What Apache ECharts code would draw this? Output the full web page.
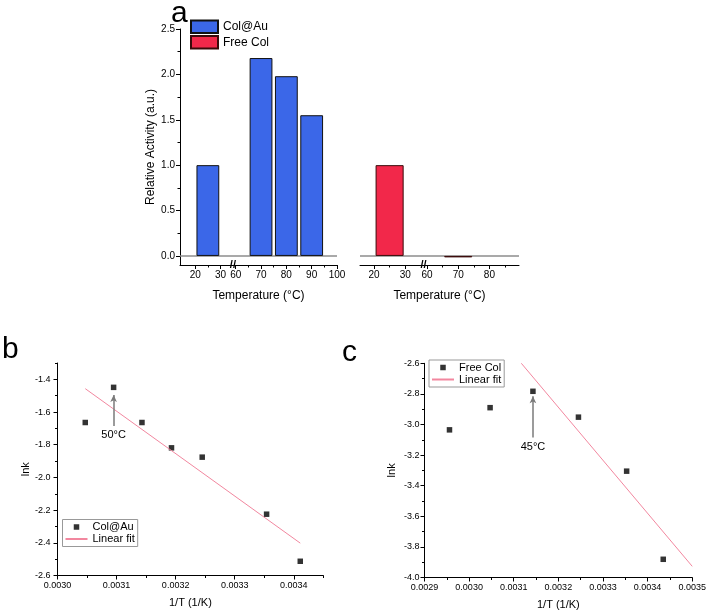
<!DOCTYPE html>
<html><head><meta charset="utf-8">
<script src="https://cdn.jsdelivr.net/npm/echarts@6/dist/echarts.min.js"></script>
<style>html,body{margin:0;padding:0;background:#fff}#c{width:709px;height:615px}</style>
</head><body><div id="c"></div>
<script>
// ---------------- data ----------------
// panel a : relative activity vs temperature (bar centres in °C)
const barTempsColAu = [25, 70, 80, 90];
const barActivityColAu = [1.00, 2.18, 1.98, 1.55];
const barTempsFreeCol = [25, 70];
const barActivityFreeCol = [1.00, -0.016];
const aYTickLabels = [0, 0.5, 1.0, 1.5, 2.0, 2.5];
const aYMinorTicks = [0.25, 0.75, 1.25, 1.75, 2.25];
const aXTickLabelsLeft = [20, 30, 60, 70, 80, 90, 100];
const aXMinorLeft = [25, 65, 75, 85, 95];
const aXTickLabelsRight = [20, 30, 60, 70, 80];
const aXMinorRight = [25, 65, 75, 85];

// panel b : Arrhenius plot Col@Au
const invTColAu = [0.003047, 0.003095, 0.003143, 0.003193, 0.003245, 0.003354, 0.003411];
const lnkColAu = [-1.664, -1.449, -1.664, -1.819, -1.876, -2.225, -2.513];
const fitColAuX = [0.003047, 0.003411];
const fitColAuY = [-1.457, -2.402];
const arrowBY = [-1.685, -1.495];
const bXTickLabels = [0.0030, 0.0031, 0.0032, 0.0033, 0.0034];
const bXMinor = [0.00305, 0.00315, 0.00325, 0.00335, 0.00345];
const bYTickLabels = [-2.6, -2.4, -2.2, -2.0, -1.8, -1.6, -1.4];
const bYMinor = [-2.5, -2.3, -2.1, -1.9, -1.7, -1.5, -1.3];

// panel c : Arrhenius plot Free Col
const invTFree = [0.002956, 0.003047, 0.003143, 0.003245, 0.003353, 0.003435];
const lnkFree = [-3.035, -2.890, -2.783, -2.952, -3.305, -3.881];
const fitFreeX = [0.003117, 0.0035];
const fitFreeY = [-2.6, -3.927];
const arrowCY = [-3.085, -2.815];
const cXTickLabels = [0.0029, 0.0030, 0.0031, 0.0032, 0.0033, 0.0034, 0.0035];
const cXMinor = [0.00295, 0.00305, 0.00315, 0.00325, 0.00335, 0.00345];
const cYTickLabels = [-4.0, -3.8, -3.6, -3.4, -3.2, -3.0, -2.8, -2.6];
const cYMinor = [-3.9, -3.7, -3.5, -3.3, -3.1, -2.9, -2.7];

const legendNames = {sB: 'Col@Au', fitB: 'Linear fit', sC: 'Free Col', fitC: 'Linear fit'};

// ---------------- broken temperature axes (panel a) ----------------
const SHIFT_L = 24, SHIFT_R = 23;          // width of the 30..60 gap removed
const uL = t => t <= 30 ? t : t - SHIFT_L;
const uR = t => t <= 30 ? t : t - SHIFT_R;
const tL = u => Math.round(u <= 30 ? u : u + SHIFT_L);
const tR = u => Math.round(u <= 30 ? u : u + SHIFT_R);
const breakAt = [34.9, 35.9];

const FONT = 'Liberation Sans, Arial, sans-serif';
const BLACK = '#000';
const SQUARE = 'path://M0,0L10,0L10,10L0,10Z';

const G = [
  {left: 180, top: 29, width: 157, height: 236},
  {left: 360, top: 29, width: 159, height: 236},
  {left: 57.5, top: 363, width: 265.8, height: 212.5},
  {left: 424.5, top: 363.3, width: 267.8, height: 214.2}
];
const A = [{min: 14, max: 76}, {min: 15.5, max: 66.5}];

function majorAxis(dim, gi, min, max, majors, fmt, fs, margin, extra) {
  return Object.assign({
    type: 'value', gridIndex: gi, min, max,
    position: dim === 'x' ? 'bottom' : 'left',
    axisLine: {show: true, onZero: false, lineStyle: {color: BLACK, width: 1}},
    axisTick: {show: true, customValues: majors, length: 4, inside: false, lineStyle: {color: BLACK, width: 1}},
    axisLabel: {show: true, customValues: majors, formatter: fmt, fontSize: fs, color: BLACK, fontFamily: FONT, margin},
    splitLine: {show: false}
  }, extra || {});
}
function minorAxis(dim, gi, min, max, minors) {
  return {
    type: 'value', gridIndex: gi, min, max,
    position: dim === 'x' ? 'bottom' : 'left',
    axisLine: {show: false, onZero: false},
    axisTick: {show: true, customValues: minors, length: 2.5, lineStyle: {color: BLACK, width: 1}},
    axisLabel: {show: false},
    splitLine: {show: false}
  };
}
const nameStyle = fs => ({fontSize: fs, color: BLACK, fontFamily: FONT});

const xAxis = [
  majorAxis('x', 0, A[0].min, A[0].max, aXTickLabelsLeft.map(uL), v => String(tL(v)), 10, 5,
    {name: 'Temperature (°C)', nameLocation: 'middle', nameGap: 25, nameTextStyle: nameStyle(12)}),
  minorAxis('x', 0, A[0].min, A[0].max, aXMinorLeft.map(uL)),
  majorAxis('x', 1, A[1].min, A[1].max, aXTickLabelsRight.map(uR), v => String(tR(v)), 10, 5,
    {name: 'Temperature (°C)', nameLocation: 'middle', nameGap: 25, nameTextStyle: nameStyle(12)}),
  minorAxis('x', 1, A[1].min, A[1].max, aXMinorRight.map(uR)),
  majorAxis('x', 2, 0.0030, 0.00345, bXTickLabels, v => v.toFixed(4), 9, 6,
    {name: '1/T (1/K)', nameLocation: 'middle', nameGap: 22, nameTextStyle: nameStyle(11)}),
  minorAxis('x', 2, 0.0030, 0.00345, bXMinor),
  majorAxis('x', 3, 0.0029, 0.0035, cXTickLabels, v => v.toFixed(4), 9, 6,
    {name: '1/T (1/K)', nameLocation: 'middle', nameGap: 22, nameTextStyle: nameStyle(11)}),
  minorAxis('x', 3, 0.0029, 0.0035, cXMinor)
];
const yAxis = [
  majorAxis('y', 0, -0.1, 2.5, aYTickLabels, v => v.toFixed(1), 10, 5,
    {name: 'Relative Activity (a.u.)', nameLocation: 'middle', nameGap: 23, nameTextStyle: nameStyle(12)}),
  minorAxis('y', 0, -0.1, 2.5, aYMinorTicks),
  {type: 'value', gridIndex: 1, min: -0.1, max: 2.5, show: false, splitLine: {show: false}},
  majorAxis('y', 2, -2.6, -1.3, bYTickLabels, v => v.toFixed(1), 9, 7,
    {name: 'lnk', nameLocation: 'middle', nameGap: 26, nameTextStyle: nameStyle(11)}),
  minorAxis('y', 2, -2.6, -1.3, bYMinor),
  majorAxis('y', 3, -4.0, -2.6, cYTickLabels, v => v.toFixed(1), 9, 5,
    {name: 'lnk', nameLocation: 'middle', nameGap: 27, nameTextStyle: nameStyle(11)}),
  minorAxis('y', 3, -4.0, -2.6, cYMinor)
];

const zeroLine = {
  silent: true, symbol: 'none', animation: false, z: 1,
  lineStyle: {color: '#8c8c8c', width: 1.5, type: 'solid'},
  label: {show: false}, emphasis: {disabled: true},
  data: [{yAxis: 0}]
};
function arrow(x, ys, text) {
  return {
    silent: true, animation: false, symbol: ['none', 'arrow'], symbolSize: [5, 7],
    lineStyle: {color: '#7a7a7a', width: 1.5, type: 'solid'},
    label: {show: true, position: 'start', formatter: text, color: BLACK, fontSize: 11, fontFamily: FONT, distance: 4},
    emphasis: {disabled: true},
    data: [[{coord: [x, ys[0]]}, {coord: [x, ys[1]]}]]
  };
}
const fitColor = '#f2879f';
const hideSym = {opacity: 0, color: 'rgba(0,0,0,0)', borderWidth: 0};
const smallLegend = (names, left, top) => ({
  data: [{name: names[0], icon: SQUARE}, {name: names[1], itemStyle: hideSym}],
  formatter: n => legendNames[n], orient: 'vertical', left, top,
  itemWidth: 22, itemHeight: 5.5, itemGap: 1, padding: [2, 3, 2, 2], borderColor: '#999', borderWidth: 1,
  symbolKeepAspect: true, selectedMode: false, textStyle: {fontSize: 11, color: BLACK, fontFamily: FONT}
});

const option = {
  animation: false,
  backgroundColor: '#fff',
  textStyle: {fontFamily: FONT},
  grid: G,
  xAxis, yAxis,
  legend: [
    {data: [{name: 'Col@Au', icon: 'rect'}, {name: 'Free Col', icon: 'rect'}], orient: 'vertical', left: 190, top: 19.5,
     itemWidth: 27, itemHeight: 12.5, itemGap: 1, padding: 0, selectedMode: false,
     textStyle: {fontSize: 12, color: BLACK, fontFamily: FONT}},
    smallLegend(['sB', 'fitB'], 62.5, 519.5),
    smallLegend(['sC', 'fitC'], 429, 360)
  ],
  series: [
    {type: 'bar', name: 'Col@Au', xAxisIndex: 0, yAxisIndex: 0, z: 2,
     data: barTempsColAu.map((t, i) => [uL(t), barActivityColAu[i]]),
     barWidth: 9 * G[0].width / (A[0].max - A[0].min),
     itemStyle: {color: '#3b67e8', borderColor: '#111', borderWidth: 1},
     markLine: zeroLine},
    {type: 'bar', name: 'Free Col', xAxisIndex: 2, yAxisIndex: 2, z: 2,
     data: barTempsFreeCol.map((t, i) => [uR(t), barActivityFreeCol[i]]),
     barWidth: 9 * G[1].width / (A[1].max - A[1].min),
     itemStyle: {color: '#f2284a', borderColor: '#3a0a0a', borderWidth: 1},
     markLine: zeroLine},
    {type: 'line', name: 'fitB', xAxisIndex: 4, yAxisIndex: 3, symbol: 'none',
     data: fitColAuX.map((x, i) => [x, fitColAuY[i]]),
     lineStyle: {color: fitColor, width: 1}, itemStyle: {color: fitColor}},
    {type: 'scatter', name: 'sB', xAxisIndex: 4, yAxisIndex: 3, symbol: 'rect', symbolSize: 5.5,
     data: invTColAu.map((x, i) => [x, lnkColAu[i]]),
     itemStyle: {color: BLACK},
     markLine: arrow(invTColAu[1], arrowBY, '50°C')},
    {type: 'line', name: 'fitC', xAxisIndex: 6, yAxisIndex: 5, symbol: 'none',
     data: fitFreeX.map((x, i) => [x, fitFreeY[i]]),
     lineStyle: {color: fitColor, width: 1}, itemStyle: {color: fitColor}},
    {type: 'scatter', name: 'sC', xAxisIndex: 6, yAxisIndex: 5, symbol: 'rect', symbolSize: 5.5,
     data: invTFree.map((x, i) => [x, lnkFree[i]]),
     itemStyle: {color: BLACK},
     markLine: arrow(invTFree[2], arrowCY, '45°C')}
  ]
};

const chart = echarts.init(document.getElementById('c'), null, {renderer: 'canvas'});
chart.setOption(option);

// panel letters and axis-break marks
const axisY0 = chart.convertToPixel({yAxisIndex: 0}, -0.1);
const bx0 = chart.convertToPixel({xAxisIndex: 0}, breakAt[0]);
const bx1 = chart.convertToPixel({xAxisIndex: 2}, breakAt[1]);
const letter = (t, x, y) => ({type: 'text', x, y, silent: true,
  style: {text: t, font: '30px ' + FONT, fill: BLACK, verticalAlign: 'bottom'}});
const brk = x => ({type: 'text', x, y: axisY0, silent: true,
  style: {text: '//', font: 'bold 11px ' + FONT, fill: BLACK, align: 'center', verticalAlign: 'middle', backgroundColor: '#fff'}});
chart.setOption({graphic: [letter('a', 171, 29), letter('b', 2, 365), letter('c', 342, 368), brk(bx0), brk(bx1)]});
</script>
</body></html>
